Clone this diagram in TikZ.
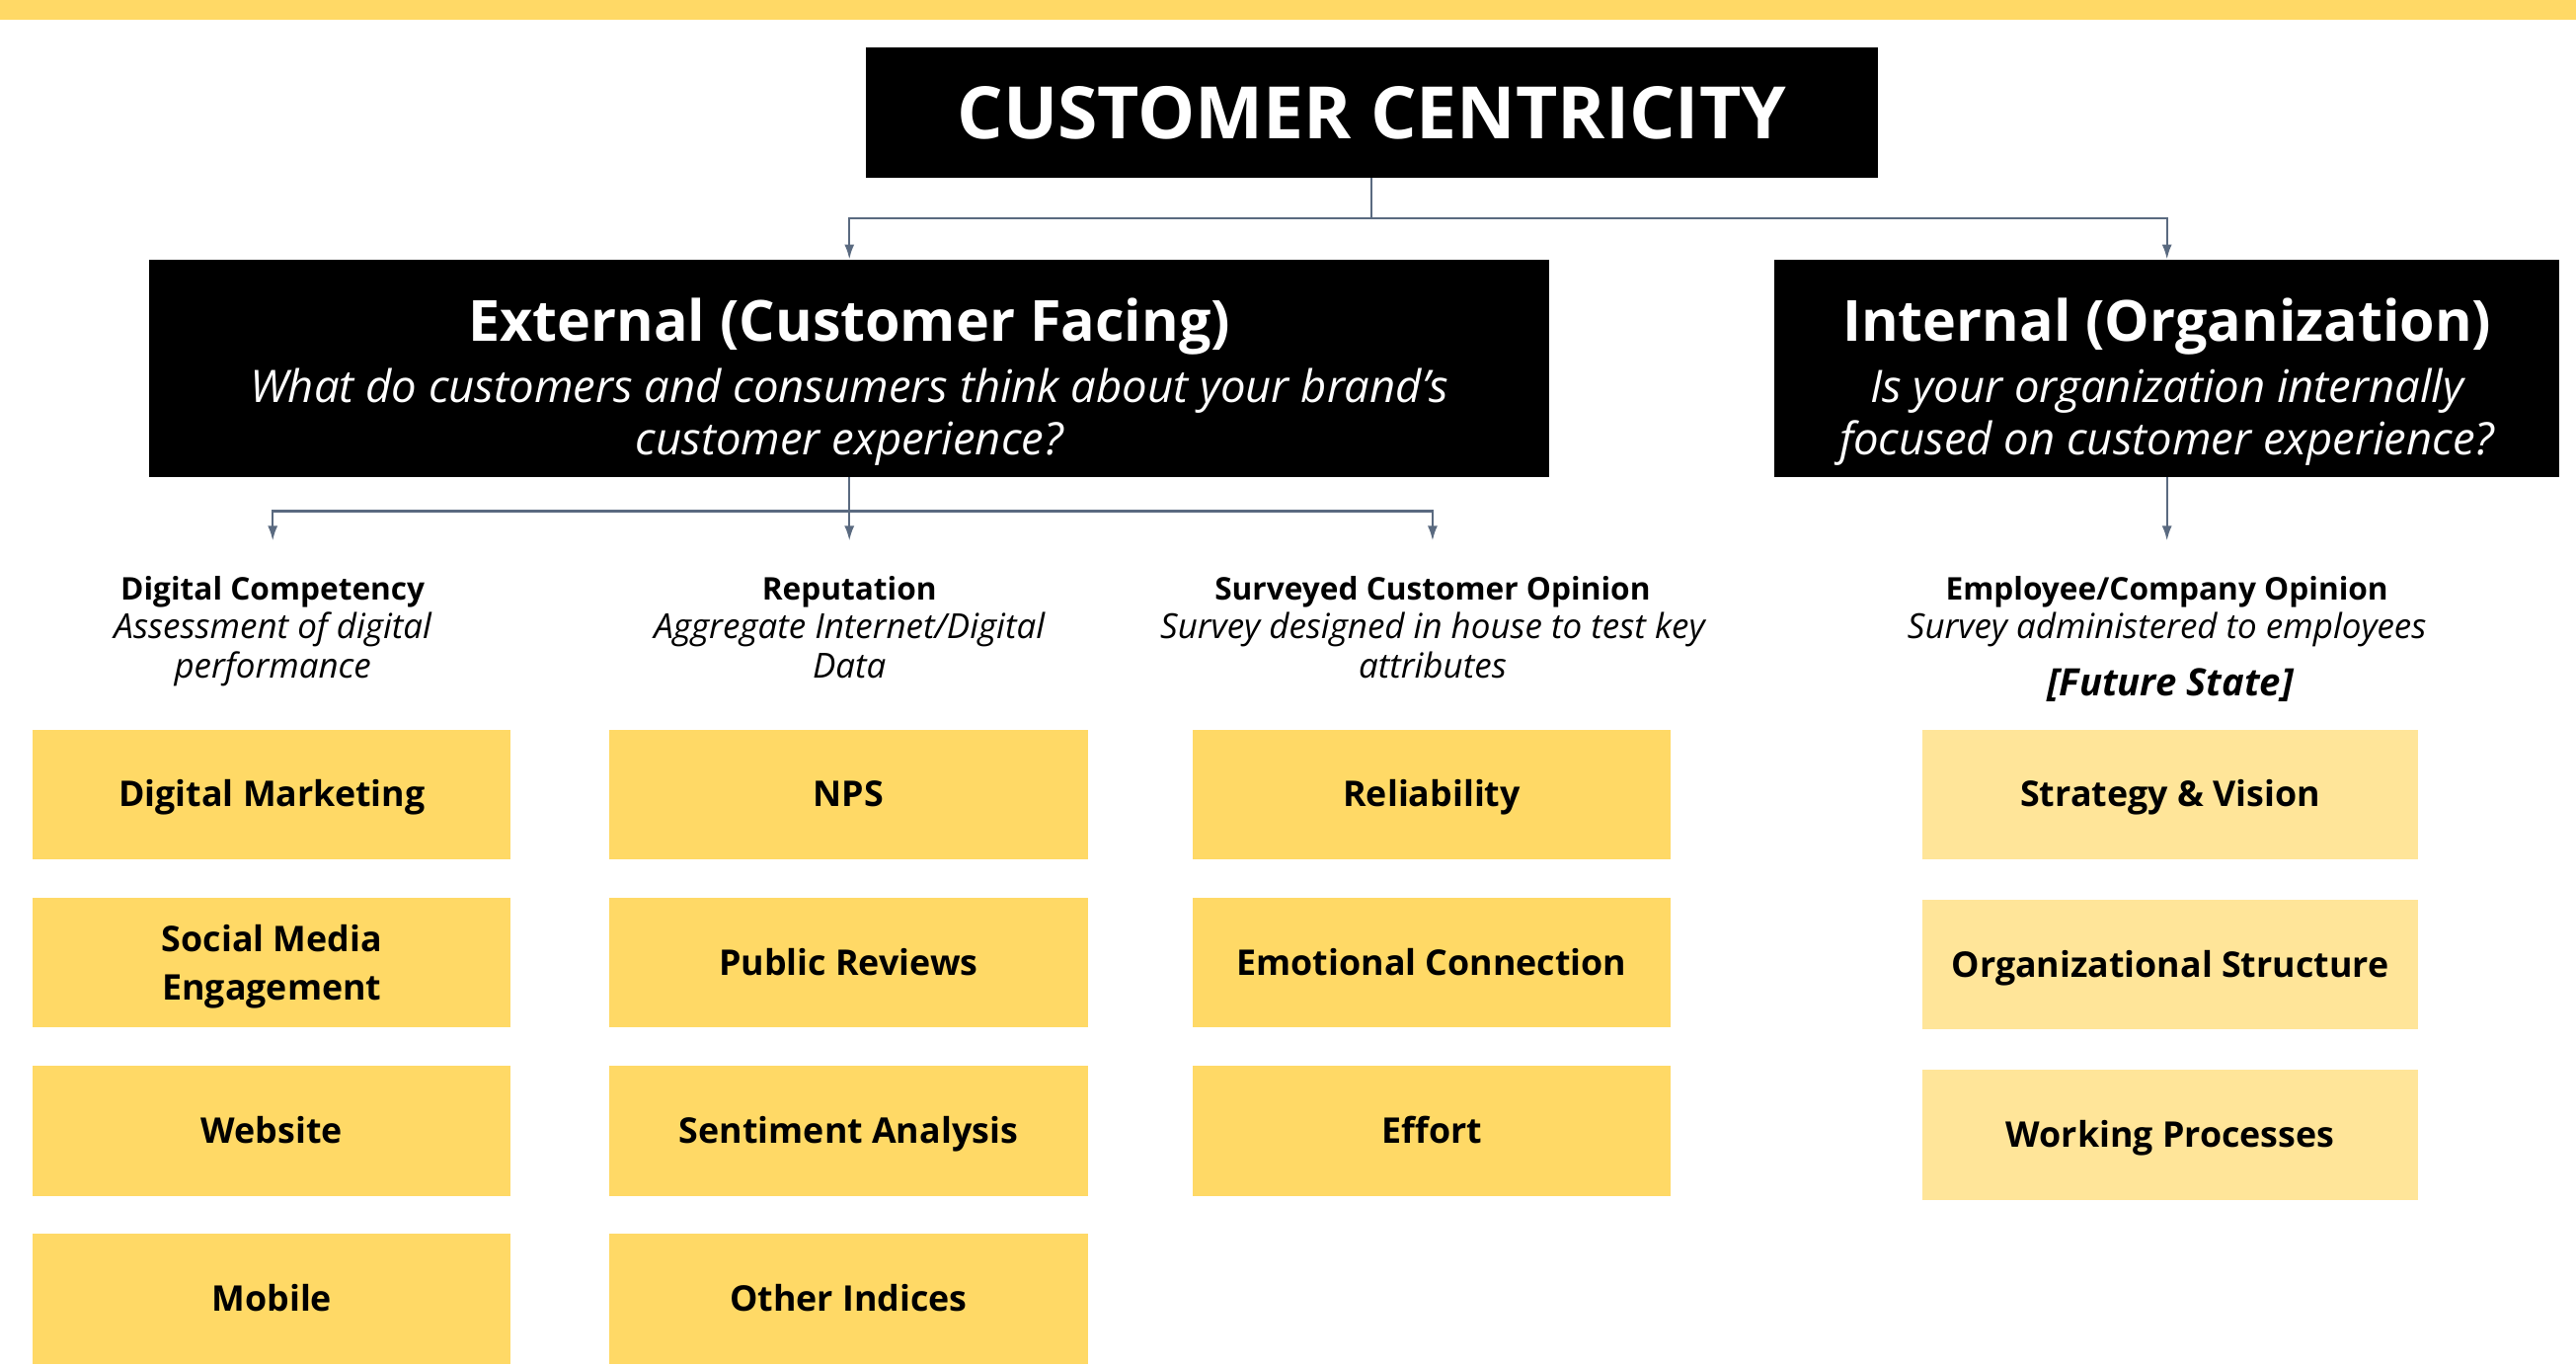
\documentclass[tikz,border=0pt]{standalone}
\usepackage{fontspec}
\setmainfont{Open Sans}
\usetikzlibrary{arrows.meta}
\usetikzlibrary{calc}

\definecolor{cyellow}{HTML}{FFD966}
\definecolor{clight}{HTML}{FFE599}
\definecolor{linkgray}{HTML}{5A6A80}

\newcommand{\headtitle}{\fontsize{34.5}{40}\selectfont\bfseries\upshape\rule{0pt}{43pt}}
\newcommand{\headsub}{\fontsize{27.3}{32}\selectfont\mdseries\itshape}
\newcommand{\itemstrut}{\rule[-6pt]{0pt}{27pt}}
\newcommand{\catsub}{\fontsize{21}{24}\selectfont\itshape}
\tikzset{
  headbox/.style={fill=black, text=white, align=center, inner sep=0pt, font=\headsub},
  itembox/.style={fill=cyellow, minimum width=291pt, minimum height=79pt, inner sep=0pt,
    align=center, font=\fontsize{21.5}{29}\selectfont\bfseries},
  futurebox/.style={itembox, fill=clight, minimum width=302pt},
  catlabel/.style={align=center, inner sep=0pt, font=\fontsize{19}{24}\selectfont},
  link/.style={draw=linkgray, line width=1.3pt},
  arrowlink/.style={link, -{Latex[length=9pt,width=6pt]}},
}

\begin{document}
\begin{tikzpicture}[x=1pt,y=-1pt]
    \useasboundingbox (0,0) rectangle (1568,831);
    % Top band
    \fill[cyellow] (0,0) rectangle (1568,12);

    % Headers:
    \node[headbox, minimum width=616pt, minimum height=79pt, font=\fontsize{44}{50}\selectfont\bfseries]
        (title) at (835,68.5) {CUSTOMER CENTRICITY};
    \node[headbox, minimum width=852pt, minimum height=132pt] (ext) at (517,224)
        {{\headtitle External (Customer Facing)}\\[5pt]
         What do customers and consumers think about your brand’s\\ customer experience?};
    \node[headbox, minimum width=478pt, minimum height=132pt] (int) at (1319,224)
        {{\headtitle Internal (Organization)}\\[5pt]
         Is your organization internally\\ focused on customer experience?};

    % Connectors from the title:
    \draw[link] (title.south) -- (835,133) coordinate (tj);
    \draw[arrowlink] (tj) -| (ext.north);
    \draw[arrowlink] (tj) -| (int.north);

    % Categories:
    \node[catlabel] (dc) at (166,384) {\strut\textbf{Digital Competency}\\ {\catsub Assessment of digital}\\ {\catsub performance}\strut};
    \node[catlabel] (rep) at (517,384) {\strut\textbf{Reputation}\\ {\catsub Aggregate Internet/Digital}\\ {\catsub Data}\strut};
    \node[catlabel] (sco) at (872,384) {\strut\textbf{Surveyed Customer Opinion}\\ {\catsub Survey designed in house to test key}\\ {\catsub attributes}\strut};
    \node[catlabel] (eco) at (1319,372) {\strut\textbf{Employee/Company Opinion}\\ {\catsub Survey administered to employees}\strut};
    \node[inner sep=0pt, font=\fontsize{23}{26}\selectfont\bfseries\itshape] (fut) at (1321,417) {[Future State]};

    % Arrow ends above the categories
    \foreach \c/\x in {dc/166,rep/517,sco/872,eco/1319}{%
        \coordinate (\c-top) at (\x,329);
    }
    \draw[link] (ext.south) -- (517,311) coordinate (ej);
    \draw[arrowlink] (ej) -| (dc-top);
    \draw[arrowlink] (ej) -- (rep-top);
    \draw[arrowlink] (ej) -| (sco-top);
    \draw[arrowlink] (int.south) -- (eco-top);

    % Items:
    \foreach \txt [count=\i] in {Digital Marketing,{Social Media\\ Engagement},Website,Mobile}{%
        \node[itembox] (dc\i) at (165.5,{483.5+102.3*(\i-1)}) {\itemstrut\txt};
    }
    \foreach \txt [count=\i] in {NPS,Public Reviews,Sentiment Analysis,Other Indices}{%
        \node[itembox] (rep\i) at (516.5,{483.5+102.3*(\i-1)}) {\itemstrut\txt};
    }
    \foreach \txt [count=\i] in {Reliability,Emotional Connection,Effort}{%
        \node[itembox] (sco\i) at (871.5,{483.5+102.3*(\i-1)}) {\itemstrut\txt};
    }
    \foreach \txt [count=\i] in {Strategy \& Vision,Organizational Structure,Working Processes}{%
        \node[futurebox] (eco\i) at (1321,{483.5+103.5*(\i-1)}) {\itemstrut\txt};
    }
\end{tikzpicture}
\end{document}
